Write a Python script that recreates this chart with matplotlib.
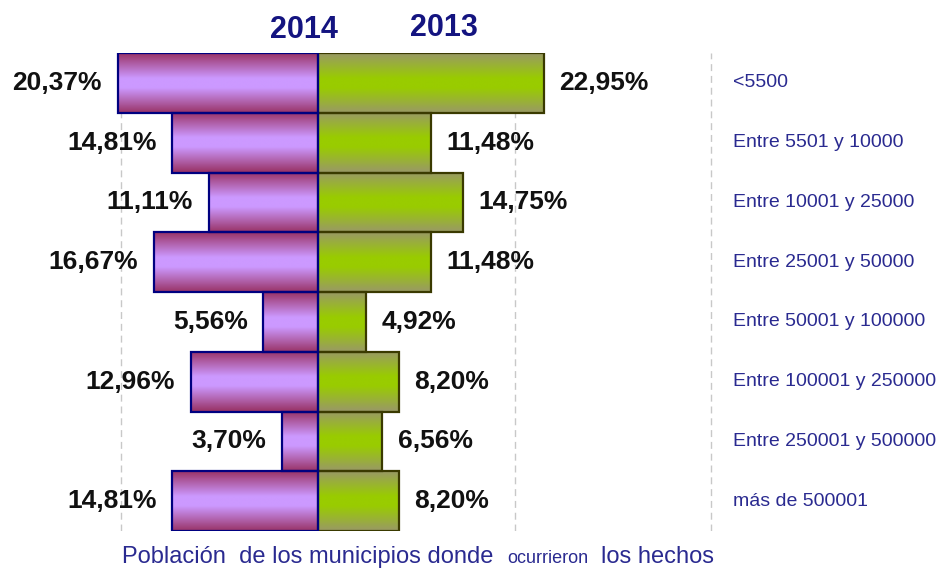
import numpy as np
import matplotlib
matplotlib.use("Agg")
import matplotlib.pyplot as plt
from matplotlib.colors import LinearSegmentedColormap

categories = ["<5500", "Entre 5501 y 10000", "Entre 10001 y 25000", "Entre 25001 y 50000",
              "Entre 50001 y 100000", "Entre 100001 y 250000", "Entre 250001 y 500000",
              "más de 500001"]
values_2014 = [20.37, 14.81, 11.11, 16.67, 5.56, 12.96, 3.70, 14.81]
values_2013 = [22.95, 11.48, 14.75, 11.48, 4.92, 8.20, 6.56, 8.20]
labels_2014 = ["20,37%", "14,81%", "11,11%", "16,67%", "5,56%", "12,96%", "3,70%", "14,81%"]
labels_2013 = ["22,95%", "11,48%", "14,75%", "11,48%", "4,92%", "8,20%", "6,56%", "8,20%"]
series_names = ["2014", "2013"]

plt.rcParams['font.family'] = ['Liberation Sans', 'DejaVu Sans']

W, H = 940, 569
fig = plt.figure(figsize=(W / 100, H / 100), dpi=100)
px = 9.83          # pixels per percent
cx = 318           # centre pixel
top_px, bot_px = 53, 531
ax = fig.add_axes([0, 1 - bot_px / H, 1, (bot_px - top_px) / H])
xlim = (-cx / px, (W - cx) / px)

lab_col = '#2a2a90'

y = np.arange(len(categories))

def grad_cmap(edge, mid, name):
    return LinearSegmentedColormap.from_list(name, [(0, edge), (0.42, mid), (0.58, mid), (1, edge)])

purple_cmap = grad_cmap('#993366', '#cc99ff', 'pur')
green_cmap = grad_cmap('#999966', '#99cc00', 'grn')
g = np.linspace(0, 1, 256).reshape(-1, 1)

for xv in (-20, 20, 40):
    ax.axvline(xv, color='#c8c8c8', lw=1.0, ls=(0, (5, 3.5)), zorder=0)

bars13 = ax.barh(y, values_2013, height=1.0, facecolor='none', edgecolor='#3a3a00', lw=1.6, zorder=3)
bars14 = ax.barh(y, [-v for v in values_2014], height=1.0, facecolor='none', edgecolor='#000080', lw=1.6, zorder=4)

for bars, cmap in ((bars13, green_cmap), (bars14, purple_cmap)):
    for p in bars:
        x0, x1 = sorted([p.get_x(), p.get_x() + p.get_width()])
        y0, y1 = p.get_y(), p.get_y() + p.get_height()
        ax.imshow(g, cmap=cmap, extent=[x0, x1, y1, y0], aspect='auto', zorder=2,
                  interpolation='bilinear')

for i in range(len(categories)):
    ax.text(-values_2014[i] - 1.6, y[i], labels_2014[i], ha='right', va='center',
            fontsize=19, fontweight='bold', color='#111111')
    ax.text(values_2013[i] + 1.6, y[i], labels_2013[i], ha='left', va='center',
            fontsize=19, fontweight='bold', color='#111111')
    ax.text((733 - cx) / px, y[i], categories[i], ha='left', va='center',
            fontsize=14, color=lab_col)

ax.set_xlim(*xlim)
ax.set_ylim(len(categories) - 0.5, -0.5)
ax.axis('off')

fig.text(304 / W, 1 - 30 / H, series_names[0], ha='center', va='center',
         fontsize=22, fontweight='bold', color='#141480')
fig.text(444 / W, 1 - 28 / H, series_names[1], ha='center', va='center',
         fontsize=22, fontweight='bold', color='#141480')

base = 1 - 563 / H
fig.text(122 / W, base, "Población  de los municipios donde", ha='left', va='baseline',
         fontsize=17, color=lab_col)
fig.text(507 / W, base, "ocurrieron", ha='left', va='baseline', fontsize=13, color=lab_col)
fig.text(601 / W, base, "los hechos", ha='left', va='baseline', fontsize=17, color=lab_col)

fig.savefig('out.png', dpi=100)
